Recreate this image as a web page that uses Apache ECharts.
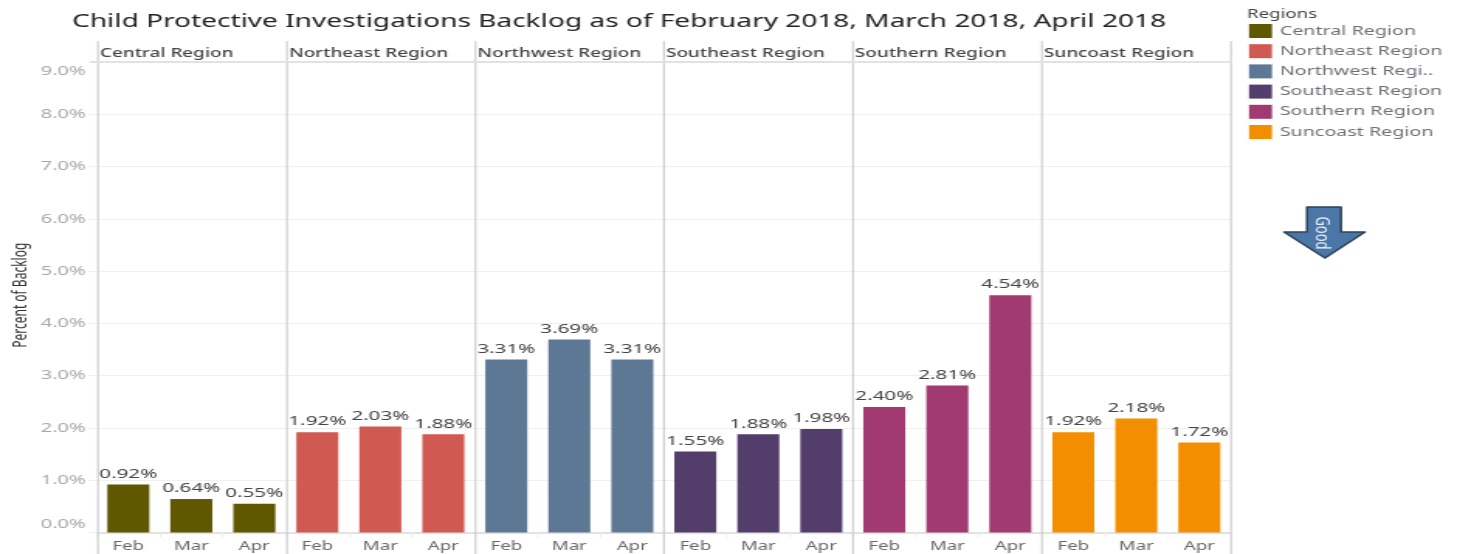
<!DOCTYPE html>
<html>
<head>
    <meta charset="UTF-8">
    <title>Child Protective Investigations Backlog</title>
    <script src="https://cdn.jsdelivr.net/npm/echarts@6/dist/echarts.min.js"></script>
    <style>
        html, body { margin: 0; padding: 0; background: #fff; overflow: hidden; }
        /* the reference is a picture stretched sideways, so the chart is drawn narrow and widened */
        #chart-container { height: 554px; transform-origin: 0 0; }
    </style>
</head>
<body>
    <div id="chart-container"></div>
    <script type="text/javascript">
        var months = ['Feb', 'Mar', 'Apr'];
        var regions = ['Central Region', 'Northeast Region', 'Northwest Region', 'Southeast Region', 'Southern Region', 'Suncoast Region'];
        var central = [0.92, 0.64, 0.55];
        var northeast = [1.92, 2.03, 1.88];
        var northwest = [3.31, 3.69, 3.31];
        var southeast = [1.55, 1.88, 1.98];
        var southern = [2.40, 2.81, 4.54];
        var suncoast = [1.92, 2.18, 1.72];
        var regionColors = ['#5f5800', '#d05a52', '#5d7895', '#533e6b', '#a03a70', '#f28e00'];
        var regionValues = [central, northeast, northwest, southeast, southern, suncoast];

        var STRETCH = 1.55;
        var WIDTH = 1459;
        var FONT = '"Noto Sans", sans-serif';
        var panelLines = [98, 287, 475.5, 664, 853, 1042, 1231];

        // 页面像素 -> 画布像素
        function sx(px) { return px / STRETCH; }

        var box = document.getElementById('chart-container');
        box.style.width = sx(WIDTH) + 'px';
        box.style.transform = 'scaleX(' + STRETCH + ')';

        var grids = [], xAxes = [], yAxes = [], series = [];
        var titles = [{
            text: 'Child Protective Investigations Backlog as of February 2018, March 2018, April 2018',
            left: sx(72), top: 13, padding: 0,
            textStyle: { fontFamily: FONT, fontSize: 18.1, fontWeight: 'normal', color: '#222' }
        }, {
            text: 'Regions',
            left: sx(1247), top: 9, padding: 0,
            textStyle: { fontFamily: FONT, fontSize: 12, fontWeight: 'normal', color: '#444' }
        }];

        regions.forEach(function (name, i) {
            grids.push({ left: sx(96.8 + 189 * i), width: sx(189), top: 62, height: 470.5 });
            xAxes.push({
                type: 'category', gridIndex: i, data: months,
                axisLine: { lineStyle: { color: '#e2e2e2', width: 2 } },
                axisTick: { show: true, length: 5, lineStyle: { color: '#eeeeee' } },
                axisLabel: { fontFamily: FONT, fontSize: 12, color: '#666', margin: 8 }
            });
            yAxes.push({
                type: 'value', gridIndex: i, min: 0, max: 9, interval: 1,
                name: i === 0 ? 'Percent of Backlog' : '',
                nameLocation: 'middle', nameGap: sx(67),
                nameTextStyle: { fontFamily: FONT, fontSize: 12, color: '#333', padding: [0, 0, 0, 4] },
                axisLine: { show: false },
                axisTick: { show: i === 0, length: sx(8), lineStyle: { color: '#f0f0f0' } },
                splitLine: { lineStyle: { color: '#f0f0f0' } },
                axisLabel: {
                    show: i === 0, fontFamily: FONT, fontSize: 13, color: '#a8a8a8',
                    margin: sx(11), verticalAlignMinLabel: 'bottom', verticalAlignMaxLabel: 'top',
                    formatter: function (v) {
                        var text = v.toFixed(1) + '%';
                        if (v === 9) return '{high|' + text + '}';
                        if (v === 0) return '{low|' + text + '}';
                        return text;
                    },
                    rich: {
                        high: { padding: [3, 0, 0, 0] },
                        low: { padding: [0, 0, 2, 0] }
                    }
                }
            });
            series.push({
                name: name, type: 'bar', xAxisIndex: i, yAxisIndex: i,
                data: regionValues[i], barWidth: sx(42),
                itemStyle: { color: regionColors[i] },
                label: {
                    show: true, position: 'top', distance: 4,
                    fontFamily: FONT, fontSize: 13.3, color: '#444',
                    formatter: function (p) { return p.value.toFixed(2) + '%'; }
                }
            });
            titles.push({
                text: name, left: sx(panelLines[i] + 2), top: 48, padding: 0,
                textStyle: { fontFamily: FONT, fontSize: 12.2, fontWeight: 500, color: '#444' }
            });
        });

        // 面板竖线和顶部横线
        var graphics = panelLines.map(function (x) {
            return {
                type: 'line', silent: true, z: 5,
                shape: { x1: sx(x), y1: 41, x2: sx(x), y2: 554 },
                style: { stroke: '#cfcfcf', lineWidth: 1.2 }
            };
        });
        graphics.push({
            type: 'line', silent: true, z: 5,
            shape: { x1: sx(90), y1: 62, x2: sx(1231), y2: 62 },
            style: { stroke: '#e2e2e2', lineWidth: 2 }
        });
        // Good 箭头
        graphics.push({
            type: 'polygon', silent: true, z: 6,
            shape: { points: [[sx(1307), 207], [sx(1341), 207], [sx(1341), 232], [sx(1365), 232], [sx(1325), 258], [sx(1284), 232], [sx(1307), 232]] },
            style: { fill: '#4a76a8', stroke: '#2f4257', lineWidth: 1.5, lineJoin: 'round' }
        });
        graphics.push({
            type: 'text', silent: true, z: 7,
            x: sx(1322), y: 233, rotation: -Math.PI / 2,
            style: { text: 'Good', fill: '#e8eef5', font: '13px ' + FONT, align: 'center', verticalAlign: 'middle' }
        });

        var myChart = echarts.init(box);
        myChart.setOption({
            animation: false,
            title: titles,
            grid: grids,
            xAxis: xAxes,
            yAxis: yAxes,
            series: series,
            graphic: graphics,
            legend: {
                orient: 'vertical', left: sx(1249), top: 24, padding: 0,
                itemWidth: sx(23), itemHeight: 14, itemGap: 6.2, icon: 'rect',
                selectedMode: false, data: regions,
                textStyle: { fontFamily: FONT, fontSize: 12.7, color: '#6f6f78' },
                formatter: function (name) { return name === 'Northwest Region' ? 'Northwest Regi..' : name; }
            }
        });
    </script>
</body>
</html>
